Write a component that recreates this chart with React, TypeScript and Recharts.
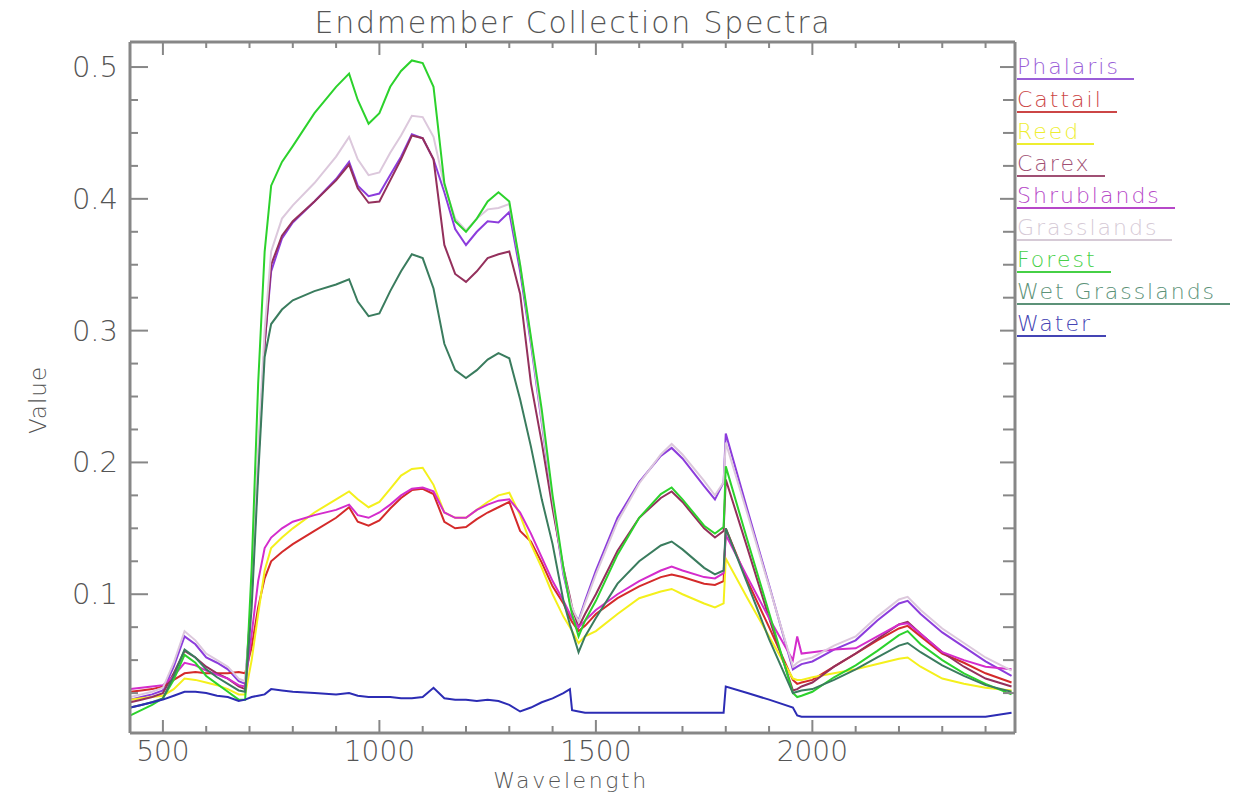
import { LineChart, Line, XAxis, YAxis } from "recharts";

// wavelength grid (nm)
const wavelengths = [
  425, 450, 475, 500, 525, 550, 575, 600, 625, 650,
  675, 690, 705, 720, 735, 750, 775, 800, 850, 900,
  930, 950, 975, 1000, 1025, 1050, 1075, 1100, 1125, 1150,
  1175, 1200, 1225, 1250, 1275, 1300, 1325, 1350, 1375, 1400,
  1425, 1440, 1445, 1460, 1475, 1500, 1550, 1600, 1650, 1675,
  1700, 1750, 1775, 1795, 1800, 1850, 1900, 1955, 1965, 1975,
  2000, 2050, 2100, 2150, 2200, 2220, 2250, 2300, 2350, 2400,
  2460,
];

const phalaris = [
  0.020, 0.022, 0.024, 0.027, 0.045, 0.068, 0.062, 0.052, 0.048, 0.043,
  0.034, 0.032, 0.100, 0.200, 0.290, 0.345, 0.370, 0.382, 0.398, 0.415,
  0.428, 0.410, 0.402, 0.404, 0.418, 0.432, 0.449, 0.446, 0.430, 0.405,
  0.377, 0.365, 0.375, 0.383, 0.382, 0.390, 0.345, 0.290, 0.230, 0.170,
  0.115, 0.094, 0.088, 0.080, 0.095, 0.118, 0.158, 0.185, 0.205, 0.211,
  0.203, 0.182, 0.172, 0.185, 0.222, 0.164, 0.107, 0.043, 0.045, 0.047,
  0.049, 0.058, 0.065, 0.080, 0.093, 0.095, 0.085, 0.071, 0.060, 0.049,
  0.038,
];

const cattail = [
  0.026, 0.027, 0.028, 0.030, 0.035, 0.040, 0.041, 0.040, 0.040, 0.040,
  0.041, 0.040, 0.060, 0.090, 0.112, 0.125, 0.132, 0.138, 0.148, 0.158,
  0.166, 0.155, 0.152, 0.156, 0.165, 0.173, 0.179, 0.180, 0.176, 0.155,
  0.150, 0.151, 0.157, 0.162, 0.166, 0.170, 0.148, 0.140, 0.124, 0.106,
  0.093, 0.082, 0.079, 0.072, 0.076, 0.085, 0.097, 0.106, 0.113, 0.115,
  0.113, 0.108, 0.107, 0.110, 0.150, 0.110, 0.075, 0.035, 0.032, 0.033,
  0.035, 0.045, 0.055, 0.065, 0.074, 0.076, 0.068, 0.055, 0.048, 0.040,
  0.033,
];

const reed = [
  0.020, 0.021, 0.022, 0.023, 0.028, 0.036, 0.035, 0.033, 0.031, 0.028,
  0.024, 0.024, 0.050, 0.085, 0.118, 0.135, 0.143, 0.150, 0.162, 0.172,
  0.178, 0.172, 0.166, 0.170, 0.180, 0.190, 0.195, 0.196, 0.183, 0.162,
  0.158, 0.158, 0.164, 0.170, 0.175, 0.177, 0.160, 0.138, 0.120, 0.100,
  0.083, 0.075, 0.072, 0.063, 0.068, 0.072, 0.085, 0.097, 0.102, 0.104,
  0.100, 0.093, 0.090, 0.093, 0.127, 0.097, 0.068, 0.036, 0.035, 0.035,
  0.037, 0.040, 0.043, 0.047, 0.051, 0.052, 0.045, 0.036, 0.032, 0.029,
  0.027,
];

const carex = [
  0.018, 0.020, 0.022, 0.025, 0.040, 0.057, 0.052, 0.045, 0.040, 0.036,
  0.030, 0.028, 0.100, 0.200, 0.290, 0.350, 0.372, 0.383, 0.398, 0.414,
  0.426, 0.408, 0.397, 0.398, 0.414, 0.430, 0.448, 0.446, 0.430, 0.365,
  0.343, 0.337, 0.345, 0.355, 0.358, 0.360, 0.328, 0.260, 0.215, 0.165,
  0.120, 0.098, 0.090, 0.075, 0.085, 0.100, 0.133, 0.158, 0.173, 0.178,
  0.170, 0.150, 0.143, 0.148, 0.187, 0.135, 0.082, 0.027, 0.028, 0.030,
  0.033, 0.045, 0.055, 0.066, 0.077, 0.079, 0.070, 0.056, 0.045, 0.036,
  0.030,
];

const shrublands = [
  0.028, 0.029, 0.030, 0.031, 0.038, 0.048, 0.046, 0.042, 0.039, 0.036,
  0.031, 0.030, 0.070, 0.110, 0.135, 0.143, 0.150, 0.155, 0.160, 0.164,
  0.168, 0.160, 0.158, 0.162, 0.168, 0.175, 0.180, 0.181, 0.178, 0.162,
  0.158, 0.158, 0.164, 0.168, 0.171, 0.172, 0.162, 0.146, 0.128, 0.110,
  0.095, 0.085, 0.082, 0.075, 0.080, 0.088, 0.100, 0.110, 0.118, 0.121,
  0.118, 0.113, 0.112, 0.116, 0.145, 0.113, 0.082, 0.050, 0.068, 0.055,
  0.056, 0.058, 0.059, 0.068, 0.077, 0.078, 0.070, 0.056, 0.050, 0.045,
  0.043,
];

const grasslands = [
  0.022, 0.024, 0.026, 0.029, 0.048, 0.072, 0.065, 0.055, 0.050, 0.045,
  0.036, 0.034, 0.100, 0.210, 0.300, 0.360, 0.385, 0.395, 0.412, 0.432,
  0.447, 0.430, 0.418, 0.420, 0.435, 0.448, 0.463, 0.462, 0.447, 0.410,
  0.385, 0.376, 0.385, 0.392, 0.393, 0.396, 0.350, 0.293, 0.232, 0.172,
  0.117, 0.096, 0.090, 0.079, 0.093, 0.115, 0.155, 0.184, 0.206, 0.214,
  0.206, 0.186, 0.175, 0.185, 0.215, 0.161, 0.106, 0.045, 0.048, 0.050,
  0.052, 0.061, 0.068, 0.083, 0.096, 0.098, 0.088, 0.074, 0.063, 0.052,
  0.042,
];

const forest = [
  0.008, 0.012, 0.016, 0.021, 0.035, 0.054, 0.048, 0.038, 0.032, 0.026,
  0.020, 0.020, 0.120, 0.260, 0.360, 0.410, 0.428, 0.440, 0.465, 0.485,
  0.495, 0.475, 0.457, 0.465, 0.485, 0.497, 0.505, 0.503, 0.485, 0.412,
  0.383, 0.375, 0.385, 0.398, 0.405, 0.398, 0.350, 0.295, 0.240, 0.175,
  0.120, 0.092, 0.085, 0.068, 0.080, 0.095, 0.130, 0.158, 0.176, 0.181,
  0.172, 0.152, 0.146, 0.151, 0.197, 0.141, 0.086, 0.025, 0.022, 0.023,
  0.026, 0.037, 0.046, 0.057, 0.069, 0.072, 0.062, 0.050, 0.040, 0.032,
  0.024,
];

const wetGrasslands = [
  0.014, 0.016, 0.018, 0.021, 0.038, 0.058, 0.052, 0.043, 0.037, 0.032,
  0.027, 0.026, 0.090, 0.190, 0.280, 0.305, 0.316, 0.323, 0.330, 0.335,
  0.339, 0.322, 0.311, 0.313, 0.330, 0.345, 0.358, 0.355, 0.332, 0.290,
  0.270, 0.264, 0.270, 0.278, 0.283, 0.279, 0.248, 0.212, 0.172, 0.138,
  0.095, 0.077, 0.072, 0.056, 0.068, 0.082, 0.108, 0.125, 0.137, 0.140,
  0.134, 0.120, 0.115, 0.118, 0.150, 0.108, 0.066, 0.025, 0.026, 0.027,
  0.028, 0.035, 0.043, 0.052, 0.061, 0.063, 0.056, 0.046, 0.038, 0.031,
  0.026,
];

const water = [
  0.014, 0.016, 0.018, 0.020, 0.023, 0.026, 0.026, 0.025, 0.023, 0.022,
  0.019, 0.020, 0.022, 0.023, 0.024, 0.028, 0.027, 0.026, 0.025, 0.024,
  0.025, 0.023, 0.022, 0.022, 0.022, 0.021, 0.021, 0.022, 0.029, 0.021,
  0.020, 0.020, 0.019, 0.020, 0.019, 0.016, 0.011, 0.014, 0.018, 0.021,
  0.025, 0.028, 0.012, 0.011, 0.010, 0.010, 0.010, 0.010, 0.010, 0.010,
  0.010, 0.010, 0.010, 0.010, 0.030, 0.025, 0.020, 0.014, 0.008, 0.007,
  0.007, 0.007, 0.007, 0.007, 0.007, 0.007, 0.007, 0.007, 0.007, 0.007,
  0.010,
];

const seriesList = [
  { key: "phalaris", name: "Phalaris", values: phalaris, color: "#8c3cdc", labelColor: "#9a5ed8" },
  { key: "cattail", name: "Cattail", values: cattail, color: "#d42a2a", labelColor: "#cc4646" },
  { key: "reed", name: "Reed", values: reed, color: "#f4f01c", labelColor: "#eeee30" },
  { key: "carex", name: "Carex", values: carex, color: "#94305c", labelColor: "#a05074" },
  { key: "shrublands", name: "Shrublands", values: shrublands, color: "#d42ccc", labelColor: "#b648c8" },
  { key: "grasslands", name: "Grasslands", values: grasslands, color: "#dcc8dc", labelColor: "#d6cad6" },
  { key: "forest", name: "Forest", values: forest, color: "#2cd22c", labelColor: "#46d046" },
  { key: "wetGrasslands", name: "Wet Grasslands", values: wetGrasslands, color: "#3a7c5e", labelColor: "#5c9278" },
  { key: "water", name: "Water", values: water, color: "#2c2cb4", labelColor: "#4444b4" },
];

const xTicks = [500, 600, 700, 800, 900, 1000, 1100, 1200, 1300, 1400, 1500, 1600, 1700, 1800, 1900, 2000, 2100, 2200, 2300, 2400];
const xMajor = [500, 1000, 1500, 2000];
const yTicks = [0.025, 0.05, 0.075, 0.1, 0.125, 0.15, 0.175, 0.2, 0.225, 0.25, 0.275, 0.3, 0.325, 0.35, 0.375, 0.4, 0.425, 0.45, 0.475, 0.5];
const yMajor = [0.1, 0.2, 0.3, 0.4, 0.5];

const data = wavelengths.map((w, i) => {
  const row: Record<string, number> = { wavelength: w };
  seriesList.forEach((s) => {
    row[s.key] = s.values[i];
  });
  return row;
});

const AXIS = "#878787";
const TEXT = "#555555";
const FONT = "'DejaVu Sans', sans-serif";

const isMajorY = (v: number) => yMajor.some((m) => Math.abs(m - v) < 1e-9);

function BottomTick(props: any) {
  const { x, y, payload } = props;
  const major = xMajor.includes(payload.value);
  return (
    <g>
      <line x1={x} x2={x} y1={y} y2={y - (major ? 13 : 7)} stroke={AXIS} strokeWidth={2} />
      {major && (
        <text x={x} y={y + 28} textAnchor="middle" fontSize={28} fontWeight={200} fill={TEXT} fontFamily={FONT}>
          {payload.value}
        </text>
      )}
    </g>
  );
}

function TopTick(props: any) {
  const { x, y, payload } = props;
  const major = xMajor.includes(payload.value);
  return <line x1={x} x2={x} y1={y} y2={y + (major ? 13 : 6)} stroke={AXIS} strokeWidth={2} />;
}

function LeftTick(props: any) {
  const { x, y, payload } = props;
  const major = isMajorY(payload.value);
  return (
    <g>
      <line x1={x} x2={x + (major ? 18 : 8)} y1={y} y2={y} stroke={AXIS} strokeWidth={2} />
      {major && (
        <text x={x - 12} y={y + 10} textAnchor="end" fontSize={29} fontWeight={200} fill={TEXT} fontFamily={FONT}>
          {payload.value.toFixed(1)}
        </text>
      )}
    </g>
  );
}

function RightTick(props: any) {
  const { x, y, payload } = props;
  const major = isMajorY(payload.value);
  return <line x1={x} x2={x - (major ? 15 : 12)} y1={y} y2={y} stroke={AXIS} strokeWidth={2} />;
}

export default function App() {
  return (
    <div style={{ position: "absolute", left: 0, top: 0, width: 1240, height: 795, background: "#fff" }}>
      <LineChart width={1240} height={795} data={data} margin={{ top: 41, right: 224, bottom: 61, left: 129 }}>
        <XAxis
          dataKey="wavelength"
          type="number"
          domain={[424, 2468]}
          allowDataOverflow
          ticks={xTicks}
          interval={0}
          height={1}
          tickSize={0}
          tickMargin={0}
          tickLine={false}
          tick={<BottomTick />}
          axisLine={{ stroke: AXIS, strokeWidth: 3 }}
        />
        <XAxis
          xAxisId="top"
          orientation="top"
          dataKey="wavelength"
          type="number"
          domain={[424, 2468]}
          allowDataOverflow
          ticks={xTicks}
          interval={0}
          height={1}
          tickSize={0}
          tickMargin={0}
          tickLine={false}
          tick={<TopTick />}
          axisLine={{ stroke: AXIS, strokeWidth: 3 }}
        />
        <YAxis
          type="number"
          domain={[-0.0053, 0.519]}
          allowDataOverflow
          ticks={yTicks}
          interval={0}
          width={1}
          tickSize={0}
          tickMargin={0}
          tickLine={false}
          tick={<LeftTick />}
          axisLine={{ stroke: AXIS, strokeWidth: 3 }}
        />
        <YAxis
          yAxisId="right"
          orientation="right"
          type="number"
          domain={[-0.0053, 0.519]}
          allowDataOverflow
          ticks={yTicks}
          interval={0}
          width={1}
          tickSize={0}
          tickMargin={0}
          tickLine={false}
          tick={<RightTick />}
          axisLine={{ stroke: AXIS, strokeWidth: 3 }}
        />
        {seriesList.map((s) => (
          <Line
            key={s.key}
            type="linear"
            dataKey={s.key}
            name={s.name}
            stroke={s.color}
            strokeWidth={2}
            dot={false}
            activeDot={false}
            isAnimationActive={false}
          />
        ))}
      </LineChart>

      {/* titles */}
      <svg width={1240} height={795} style={{ position: "absolute", left: 0, top: 0, pointerEvents: "none" }}>
        <text x={573} y={33} textAnchor="middle" fontSize={30} fontWeight={200} letterSpacing={1.8} fill={TEXT} fontFamily={FONT}>
          Endmember Collection Spectra
        </text>
        <text x={571} y={788} textAnchor="middle" fontSize={22} fontWeight={200} letterSpacing={2.6} fill={TEXT} fontFamily={FONT}>
          Wavelength
        </text>
        <text
          x={46}
          y={400}
          textAnchor="middle"
          fontSize={23}
          fontWeight={200}
          letterSpacing={1}
          fill={TEXT}
          fontFamily={FONT}
          transform="rotate(-90 46 400)"
        >
          Value
        </text>
      </svg>

      {/* legend */}
      {seriesList.map((s, i) => (
        <div
          key={s.key}
          style={{
            position: "absolute",
            left: 1017,
            top: 56.4 + 32.1 * i,
            fontFamily: FONT,
            fontSize: 22,
            fontWeight: 200,
            letterSpacing: 2,
            lineHeight: "22px",
            color: s.labelColor,
            whiteSpace: "nowrap",
          }}
        >
          <span style={{ display: "inline-block", borderBottom: `2px solid ${s.labelColor}`, paddingRight: 14 }}>{s.name}</span>
        </div>
      ))}
    </div>
  );
}
